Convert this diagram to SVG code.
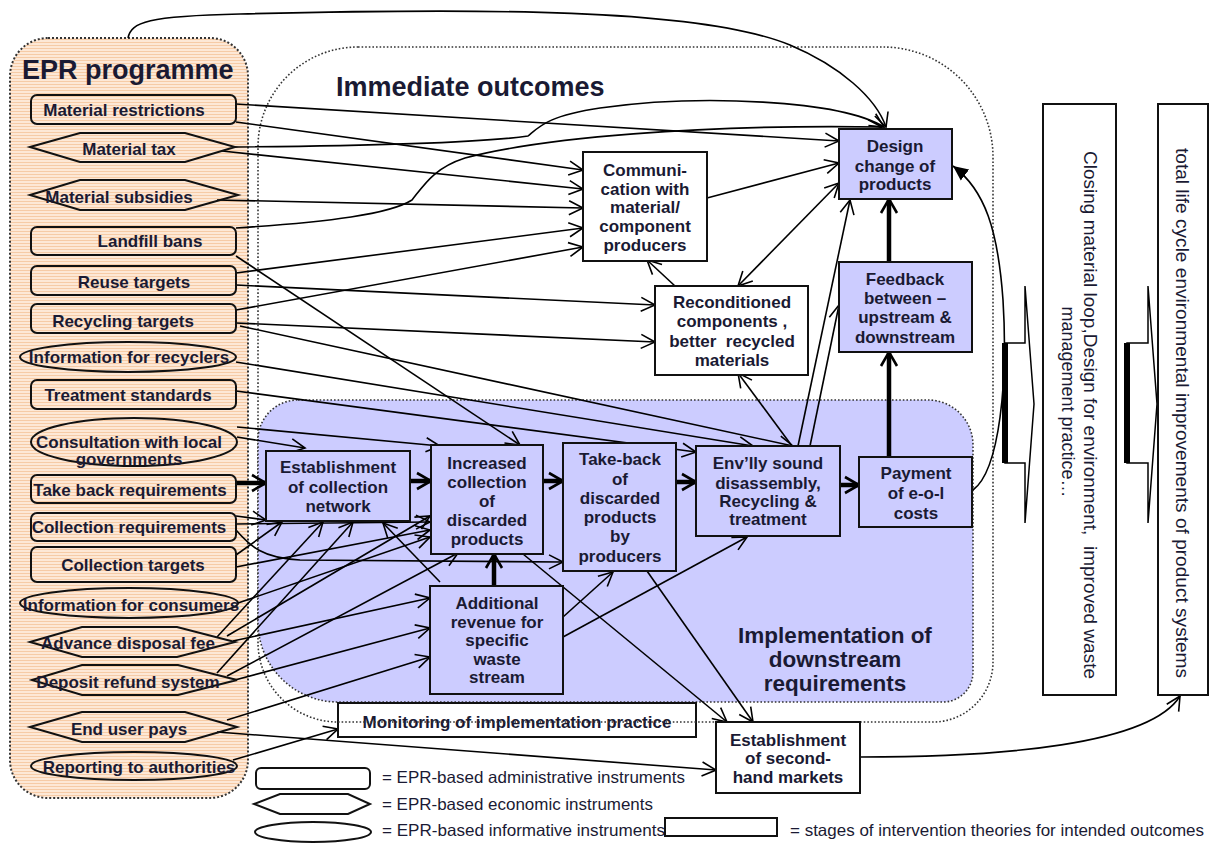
<svg xmlns="http://www.w3.org/2000/svg" width="1210" height="844" viewBox="0 0 1210 844">
<defs>
  <pattern id="peach" width="6" height="3" patternUnits="userSpaceOnUse">
    <rect width="6" height="3" fill="#fde8d6"/>
    <rect width="6" height="1" fill="#f6cba6"/>
  </pattern>
  <marker id="ah" viewBox="0 0 18 18" refX="16" refY="9" markerWidth="18" markerHeight="18" orient="auto-start-reverse" markerUnits="userSpaceOnUse">
    <path d="M2,2 L16,9 L2,16" fill="none" stroke="#000" stroke-width="1.6"/>
  </marker>
  <marker id="aht" viewBox="0 0 20 20" refX="17" refY="10" markerWidth="20" markerHeight="20" orient="auto" markerUnits="userSpaceOnUse">
    <path d="M3,2 L17,10 L3,18" fill="none" stroke="#000" stroke-width="2.6"/>
  </marker>
  <marker id="ahf" viewBox="0 0 16 16" refX="15" refY="8" markerWidth="16" markerHeight="16" orient="auto" markerUnits="userSpaceOnUse">
    <path d="M0,1 L15,8 L0,15 Z" fill="#000"/>
  </marker>
</defs>
<style>
  .t{font-family:"Liberation Sans",Arial,Helvetica,sans-serif;font-weight:bold;font-size:17px;fill:#1a1a33;text-anchor:middle}
  .h{font-family:"Liberation Sans",Arial,Helvetica,sans-serif;font-weight:bold;fill:#1a1a33}
  .r{font-family:"Liberation Sans",Arial,Helvetica,sans-serif;font-size:16.5px;fill:#1a1a33}
  .v{font-family:"Liberation Sans",Arial,Helvetica,sans-serif;font-size:18px;fill:#1a1a33;text-anchor:middle}
  .inst{fill:none;stroke:#111;stroke-width:2}
  .box{stroke:#111;stroke-width:2}
  .blue{fill:#ccccff}
  .white{fill:#fff}
  .dot{fill:none;stroke:#333;stroke-width:1.6;stroke-dasharray:1.6 2}
  .ln{fill:none;stroke:#000;stroke-width:1.6;marker-end:url(#ah)}
  .tk{fill:none;stroke:#000;stroke-width:4.5;marker-end:url(#aht)}
</style>

<!-- containers -->
<g id="epr-programme">
  <rect x="10" y="38" width="238" height="760" rx="38" fill="url(#peach)" stroke="#333" stroke-width="2" stroke-dasharray="2 2"/>
  <text class="h" x="22" y="79" font-size="27">EPR programme</text>
</g>
<g id="immediate-outcomes">
  <path class="dot" d="M358,47 H883 A110,110 0 0 1 993,157 V662 A60,60 0 0 1 933,722 H338 A80,80 0 0 1 258,642 V147 A100,100 0 0 1 358,47 Z"/>
  <text class="h" x="336" y="96" font-size="27">Immediate outcomes</text>
</g>
<g id="implementation">
  <path d="M298,400 H928 A45,45 0 0 1 973,445 V672 A30,30 0 0 1 943,702 H338 A80,80 0 0 1 258,622 V440 A40,40 0 0 1 298,400 Z" fill="#ccccff" stroke="#333" stroke-width="1.6" stroke-dasharray="1.6 2"/>
  <text class="h" text-anchor="middle" font-size="22.5"><tspan x="835" y="643">Implementation of</tspan><tspan x="835" y="667">downstream</tspan><tspan x="835" y="691">requirements</tspan></text>
</g>

<!-- connectors -->
<g id="connectors">
  <!-- programme to design change -->
  <path class="ln" d="M128,38 C131,22 148,16 240,14 C480,8 700,8 790,45 C840,66 876,98 886,127"/>
  <path class="ln" d="M236,104 L839,141"/>
  <path class="ln" d="M236,122 L583,170"/>
  <path class="ln" d="M235,147 C350,146 480,143 528,136 C540,126 548,116 600,108 C700,94 840,100 884,127"/>
  <path class="ln" d="M222,151 L583,189"/>
  <path class="ln" d="M217,200 L583,208"/>
  <path class="ln" d="M236,228 C330,222 390,214 412,200 C424,185 434,168 465,158 C540,138 700,124 882,127"/>
  <path class="ln" d="M236,256 L520,445"/>
  <path class="ln" d="M236,273 L583,228"/>
  <path class="ln" d="M236,285 L655,305"/>
  <path class="ln" d="M236,310 L583,247"/>
  <path class="ln" d="M236,323 L655,342"/>
  <path class="ln" d="M240,326 L793,446"/>
  <path class="ln" d="M236,362 L753,446"/>
  <path class="ln" d="M236,391 L696,452"/>
  <path class="ln" d="M237,427 L440,446"/>
  <path class="ln" d="M237,437 L305,448"/>
  <!-- collection instruments -->
  <path class="ln" d="M236,516 L266,520"/>
  <path class="ln" d="M236,524 L430,522"/>
  <path class="ln" d="M236,530 C250,546 262,558 300,560 L563,562"/>
  <path class="ln" d="M236,555 L282,522"/>
  <path class="ln" d="M236,567 L430,530"/>
  <path class="ln" d="M238,603 L430,537"/>
  <path class="ln" d="M217,637 L323,522"/>
  <path class="ln" d="M227,636 L430,516"/>
  <path class="ln" d="M233,641 L430,598"/>
  <path class="ln" d="M217,673 L353,522"/>
  <path class="ln" d="M227,676 L458,553"/>
  <path class="ln" d="M235,680 L430,628"/>
  <path class="ln" d="M227,720 L430,657"/>
  <path class="ln" d="M217,732 L716,770"/>
  <path class="ln" d="M233,760 L338,729"/>
  <!-- downstream chain -->
  <path class="ln" d="M440,582 L383,523"/>
  <path class="ln" d="M563,617 L613,572"/>
  <path class="ln" d="M563,637 L747,537"/>
  <path class="ln" d="M523,554 L727,722"/>
  <path class="ln" d="M647,571 L753,722"/>
  <path class="ln" d="M792,446 L738,373"/>
  <path class="ln" d="M798,446 L850,200"/>
  <path class="ln" d="M810,446 L839,305"/>
  <path class="ln" d="M738,286 L839,183" marker-start="url(#ah)"/>
  <path class="ln" d="M675,286 L647,260"/>
  <path class="ln" d="M707,198 L839,163"/>
  <path d="M973,490 C1000,470 1008,380 1003,300 C998,230 985,190 953,166" fill="none" stroke="#000" stroke-width="1.6" marker-end="url(#ahf)"/>
  <path class="ln" d="M861,757 C1000,757 1150,745 1180,696"/>
  <!-- thick main flow -->
  <path class="tk" d="M236,483 L266,483"/>
  <path class="tk" d="M410,481 L431,481"/>
  <path class="tk" d="M543,481 L563,481"/>
  <path class="tk" d="M676,482 L696,482"/>
  <path class="tk" d="M840,485 L859,485"/>
  <path class="tk" d="M889,457 L889,352"/>
  <path class="tk" d="M889,262 L889,199"/>
  <path class="tk" d="M494,586 L494,554"/>
  <!-- block arrows between outcome stages -->
  <path d="M1025,343 V286 L1034,404 L1025,523 V463 H1005 V343 Z" fill="none" stroke="#000" stroke-width="1.5"/>
  <path d="M1005,343 V463" stroke="#000" stroke-width="6"/>
  <path d="M1148,343 V286 L1157,404 L1148,523 V463 H1127 V343 Z" fill="none" stroke="#000" stroke-width="1.5"/>
  <path d="M1127,343 V463" stroke="#000" stroke-width="6"/>
</g>

<!-- EPR instruments -->
<g id="material-restrictions"><rect class="inst" x="31" y="95" width="205" height="29" rx="6"/><text class="t" x="124" y="116">Material restrictions</text></g>
<g id="material-tax"><polygon class="inst" points="30,147 80,133 185,133 235,147 185,162 80,162"/><text class="t" x="129" y="155">Material tax</text></g>
<g id="material-subsidies"><polygon class="inst" points="30,195 80,180 185,180 238,195 185,210 80,210"/><text class="t" x="119" y="203">Material subsidies</text></g>
<g id="landfill-bans"><rect class="inst" x="31" y="227" width="205" height="28" rx="6"/><text class="t" x="150" y="247">Landfill bans</text></g>
<g id="reuse-targets"><rect class="inst" x="31" y="266" width="205" height="29" rx="6"/><text class="t" x="134" y="288">Reuse targets</text></g>
<g id="recycling-targets"><rect class="inst" x="31" y="304" width="205" height="29" rx="6"/><text class="t" x="123" y="327">Recycling targets</text></g>
<g id="info-recyclers"><ellipse class="inst" cx="128" cy="357" rx="108" ry="15"/><text class="t" x="129" y="363">Information for recyclers</text></g>
<g id="treatment-standards"><rect class="inst" x="31" y="380" width="205" height="29" rx="6"/><text class="t" x="128" y="401">Treatment standards</text></g>
<g id="consultation"><ellipse class="inst" cx="134" cy="442" rx="103" ry="24"/><text class="t"><tspan x="129" y="448">Consultation with local</tspan><tspan x="129" y="465">governments</tspan></text></g>
<g id="take-back-requirements"><rect class="inst" x="31" y="475" width="205" height="28" rx="6"/><text class="t" x="130" y="496">Take back requirements</text></g>
<g id="collection-requirements"><rect class="inst" x="31" y="513" width="205" height="28" rx="6"/><text class="t" x="129" y="533">Collection requirements</text></g>
<g id="collection-targets"><rect class="inst" x="31" y="547" width="205" height="35" rx="6"/><text class="t" x="133" y="571">Collection targets</text></g>
<g id="info-consumers"><ellipse class="inst" cx="129" cy="603" rx="109" ry="15"/><text class="t" x="131" y="611">Information for consumers</text></g>
<g id="advance-disposal-fee"><polygon class="inst" points="30,642 82,627 177,627 235,642 177,657 82,657"/><text class="t" x="128" y="649">Advance disposal fee</text></g>
<g id="deposit-refund"><polygon class="inst" points="32,680 82,665 178,665 237,680 178,695 82,695"/><text class="t" x="128" y="688">Deposit refund system</text></g>
<g id="end-user-pays"><polygon class="inst" points="30,727 82,712 185,712 237,727 185,742 82,742"/><text class="t" x="129" y="735">End user pays</text></g>
<g id="reporting"><ellipse class="inst" cx="134" cy="766" rx="103" ry="14"/><text class="t" x="139" y="773">Reporting to authorities</text></g>

<!-- intervention stages -->
<g id="communication"><rect class="box white" x="583" y="152" width="124" height="109"/><text class="t"><tspan x="645" y="176">Communi-</tspan><tspan x="645" y="195">cation with</tspan><tspan x="645" y="213">material/</tspan><tspan x="645" y="232">component</tspan><tspan x="645" y="251">producers</tspan></text></g>
<g id="design-change"><rect class="box blue" x="839" y="129" width="113" height="70"/><text class="t"><tspan x="895" y="152">Design</tspan><tspan x="895" y="172">change of</tspan><tspan x="895" y="190">products</tspan></text></g>
<g id="reconditioned"><rect class="box white" x="655" y="286" width="153" height="89"/><text class="t" xml:space="preserve"><tspan x="732" y="308">Reconditioned</tspan><tspan x="732" y="327">components ,</tspan><tspan x="732" y="347">better  recycled</tspan><tspan x="732" y="366">materials</tspan></text></g>
<g id="feedback"><rect class="box blue" x="839" y="262" width="133" height="90"/><text class="t"><tspan x="905" y="285">Feedback</tspan><tspan x="905" y="304">between –</tspan><tspan x="905" y="323">upstream &amp;</tspan><tspan x="905" y="343">downstream</tspan></text></g>
<g id="collection-network"><rect class="box blue" x="266" y="451" width="144" height="70"/><text class="t"><tspan x="338" y="473">Establishment</tspan><tspan x="338" y="493">of collection</tspan><tspan x="338" y="512">network</tspan></text></g>
<g id="increased-collection"><rect class="box blue" x="431" y="445" width="112" height="109"/><text class="t"><tspan x="487" y="469">Increased</tspan><tspan x="487" y="488">collection</tspan><tspan x="487" y="507">of</tspan><tspan x="487" y="526">discarded</tspan><tspan x="487" y="545">products</tspan></text></g>
<g id="take-back"><rect class="box blue" x="563" y="443" width="113" height="128"/><text class="t"><tspan x="620" y="465">Take-back</tspan><tspan x="620" y="485">of</tspan><tspan x="620" y="504">discarded</tspan><tspan x="620" y="523">products</tspan><tspan x="620" y="542">by</tspan><tspan x="620" y="562">producers</tspan></text></g>
<g id="disassembly"><rect class="box blue" x="696" y="446" width="144" height="90"/><text class="t"><tspan x="768" y="469">Env’lly sound</tspan><tspan x="768" y="489">disassembly,</tspan><tspan x="768" y="507">Recycling &amp;</tspan><tspan x="768" y="525">treatment</tspan></text></g>
<g id="payment"><rect class="box blue" x="859" y="457" width="113" height="70"/><text class="t"><tspan x="916" y="479">Payment</tspan><tspan x="916" y="499">of e-o-l</tspan><tspan x="916" y="519">costs</tspan></text></g>
<g id="additional-revenue"><rect class="box blue" x="430" y="586" width="133" height="108"/><text class="t"><tspan x="497" y="609">Additional</tspan><tspan x="497" y="628">revenue for</tspan><tspan x="497" y="646">specific</tspan><tspan x="497" y="665">waste</tspan><tspan x="497" y="683">stream</tspan></text></g>
<g id="monitoring"><rect class="box white" x="338" y="703" width="358" height="34" stroke-width="1.6"/><text class="t" x="517" y="728">Monitoring of implementation practice</text><path class="dot" d="M338,722 H696"/></g>
<g id="second-hand-markets"><rect class="box white" x="716" y="722" width="144" height="71"/><text class="t"><tspan x="788" y="746">Establishment</tspan><tspan x="788" y="764">of second-</tspan><tspan x="788" y="783">hand markets</tspan></text></g>

<!-- long-term outcomes -->
<g id="closing-loop"><rect x="1043" y="104" width="73" height="591" fill="#fff" stroke="#111" stroke-width="2"/>
  <text class="v" transform="translate(1090,415) rotate(90)" dy="0.35em" xml:space="preserve" textLength="528" lengthAdjust="spacingAndGlyphs">Closing material loop,Design for environment,  improved waste</text>
  <text class="v" transform="translate(1068,402) rotate(90)" dy="0.35em">management practice…</text>
</g>
<g id="life-cycle"><rect x="1158" y="104" width="50" height="591" fill="#fff" stroke="#111" stroke-width="2"/>
  <text class="v" transform="translate(1182,413) rotate(90)" dy="0.35em" textLength="530" lengthAdjust="spacingAndGlyphs">total life cycle environmental improvements of product systems</text>
</g>

<!-- legend -->
<g id="legend">
  <rect class="inst" x="256" y="768" width="114" height="21" rx="5"/>
  <text class="r" x="382" y="783" textLength="303" lengthAdjust="spacingAndGlyphs">= EPR-based administrative instruments</text>
  <polygon class="inst" points="254,804 280,794 348,794 370,804 348,814 280,814"/>
  <text class="r" x="382" y="810" textLength="271" lengthAdjust="spacingAndGlyphs">= EPR-based economic instruments</text>
  <ellipse class="inst" cx="313" cy="832" rx="58" ry="10"/>
  <text class="r" x="382" y="836" textLength="283" lengthAdjust="spacingAndGlyphs">= EPR-based informative instruments</text>
  <rect x="665" y="818" width="112" height="18" fill="#fff" stroke="#111" stroke-width="2"/>
  <text class="r" x="790" y="836" textLength="414" lengthAdjust="spacingAndGlyphs">= stages of intervention theories for intended outcomes</text>
</g>
</svg>
